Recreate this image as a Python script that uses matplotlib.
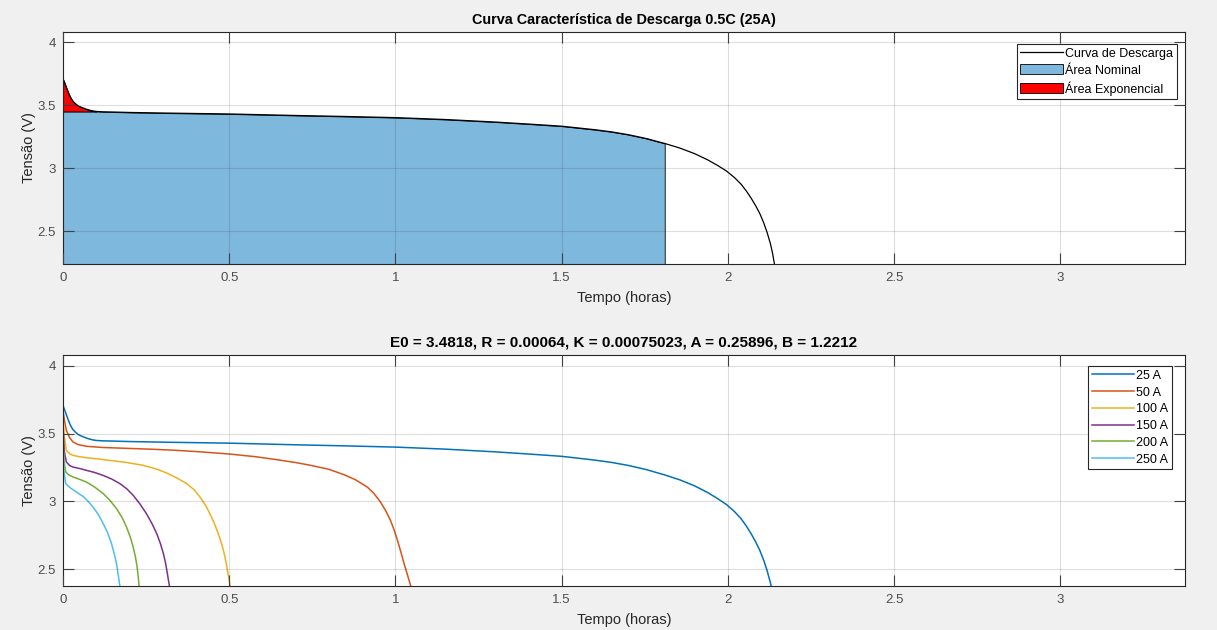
import numpy as np
import matplotlib
matplotlib.use("Agg")
import matplotlib.pyplot as plt
from matplotlib.patches import Patch
from matplotlib.lines import Line2D

plt.rcParams['font.family'] = ['Liberation Sans', 'DejaVu Sans']

# ---------------- data ----------------
t_25 = [0.000, 0.005, 0.010, 0.015, 0.020, 0.025, 0.030, 0.038, 0.045, 0.052,
        0.060, 0.070, 0.080, 0.090, 0.100, 0.120, 0.140, 0.200, 0.310, 0.500,
        0.700, 0.850, 1.000, 1.150, 1.300, 1.400, 1.500, 1.600, 1.650, 1.700,
        1.755, 1.780, 1.810, 1.855, 1.900, 1.940, 1.970, 1.996, 2.020, 2.040,
        2.056, 2.070, 2.084, 2.096, 2.108, 2.118, 2.128, 2.134, 2.140]
v_25 = [3.708, 3.675, 3.640, 3.607, 3.575, 3.550, 3.530, 3.510, 3.495, 3.486,
        3.478, 3.468, 3.460, 3.454, 3.450, 3.447, 3.446, 3.442, 3.437, 3.430,
        3.418, 3.410, 3.401, 3.386, 3.366, 3.350, 3.333, 3.305, 3.288, 3.266,
        3.235, 3.217, 3.196, 3.160, 3.115, 3.065, 3.020, 2.977, 2.925, 2.872,
        2.817, 2.762, 2.700, 2.640, 2.565, 2.490, 2.400, 2.330, 2.240]

t_50 = [0.000, 0.005, 0.010, 0.020, 0.030, 0.045, 0.070, 0.120, 0.191, 0.270,
        0.342, 0.420, 0.500, 0.580, 0.644, 0.700, 0.744, 0.800, 0.845, 0.880,
        0.915, 0.935, 0.955, 0.970, 0.985, 0.996, 1.006, 1.016, 1.026, 1.036,
        1.046]
v_50 = [3.670, 3.590, 3.525, 3.470, 3.439, 3.420, 3.407, 3.398, 3.392, 3.385,
        3.377, 3.365, 3.350, 3.330, 3.308, 3.287, 3.267, 3.237, 3.198, 3.160,
        3.107, 3.060, 2.996, 2.935, 2.861, 2.790, 2.714, 2.630, 2.542, 2.460,
        2.377]

t_100 = [0.000, 0.004, 0.010, 0.020, 0.030, 0.050, 0.070, 0.100, 0.141, 0.190,
         0.241, 0.280, 0.312, 0.345, 0.372, 0.395, 0.412, 0.428, 0.442, 0.455,
         0.467, 0.477, 0.485, 0.492, 0.498, 0.503]
v_100 = [3.620, 3.480, 3.377, 3.352, 3.340, 3.330, 3.323, 3.315, 3.303, 3.288,
         3.267, 3.240, 3.210, 3.170, 3.132, 3.085, 3.033, 2.975, 2.910, 2.840,
         2.763, 2.690, 2.616, 2.530, 2.444, 2.377]

t_150 = [0.000, 0.004, 0.010, 0.020, 0.030, 0.050, 0.070, 0.095, 0.120, 0.147,
         0.171, 0.192, 0.211, 0.232, 0.251, 0.267, 0.282, 0.293, 0.302, 0.309,
         0.314, 0.320]
v_150 = [3.540, 3.370, 3.291, 3.265, 3.254, 3.243, 3.230, 3.214, 3.193, 3.165,
         3.132, 3.093, 3.046, 2.980, 2.910, 2.840, 2.763, 2.690, 2.616, 2.540,
         2.468, 2.377]

t_200 = [0.000, 0.003, 0.008, 0.018, 0.030, 0.050, 0.070, 0.095, 0.121, 0.142,
         0.161, 0.177, 0.191, 0.202, 0.211, 0.218, 0.223, 0.226, 0.229]
v_200 = [3.470, 3.300, 3.218, 3.195, 3.181, 3.163, 3.144, 3.107, 3.058, 3.006,
         2.947, 2.885, 2.812, 2.740, 2.665, 2.590, 2.517, 2.450, 2.377]

t_250 = [0.000, 0.003, 0.008, 0.015, 0.025, 0.040, 0.060, 0.075, 0.090, 0.106,
         0.121, 0.134, 0.146, 0.154, 0.161, 0.166, 0.171]
v_250 = [3.420, 3.220, 3.132, 3.115, 3.095, 3.070, 3.038, 3.003, 2.960, 2.905,
         2.837, 2.770, 2.689, 2.615, 2.542, 2.460, 2.377]

labels = ['25 A', '50 A', '100 A', '150 A', '200 A', '250 A']
colors = ['#0072BD', '#D95319', '#EDB120', '#7E2F8E', '#77AC30', '#4DBEEE']

V_NOM = 3.45      # nominal voltage level (exponential zone boundary)
T_NOM = 1.81      # end of nominal zone (hours)

xticks = [0, 0.5, 1, 1.5, 2, 2.5, 3]
xticklabels = ['0', '0.5', '1', '1.5', '2', '2.5', '3']
yticks = [2.5, 3, 3.5, 4]
yticklabels = ['2.5', '3', '3.5', '4']

title1 = 'Curva Característica de Descarga 0.5C (25A)'
title2 = 'E0 = 3.4818, R = 0.00064, K = 0.00075023, A = 0.25896, B = 1.2212'

# ---------------- figure ----------------
W, H = 1217, 630
fig = plt.figure(figsize=(W / 100, H / 100), dpi=100, facecolor='#f0f0f0')

def px_ax(l, t, r, b):
    return [l / W, 1 - b / H, (r - l) / W, (b - t) / H]

ax1 = fig.add_axes(px_ax(63, 32, 1185, 264))
ax2 = fig.add_axes(px_ax(63, 355, 1185, 586))

AX_COL = '#262626'
TXT_COL = '#262626'

def style(ax, ylim):
    ax.set_facecolor('white')
    ax.set_xlim(0, 3.375)
    ax.set_ylim(*ylim)
    ax.set_xticks(xticks)
    ax.set_xticklabels(xticklabels)
    ax.set_yticks(yticks)
    ax.set_yticklabels(yticklabels)
    ax.tick_params(direction='in', length=8, width=0.8, colors='#404040',
                   labelcolor='#4d4d4d', labelsize=9.5, top=True, right=True, pad=6)
    ax.tick_params(axis='y', pad=5)
    for s in ax.spines.values():
        s.set_color(AX_COL)
        s.set_linewidth(0.8)
    ax.grid(True, color=(0.15, 0.15, 0.15), alpha=0.15, linewidth=0.8)
    ax.set_axisbelow(False)
    ax.set_xlabel('Tempo (horas)', fontsize=10.5, color=TXT_COL, labelpad=5)
    ax.set_ylabel('Tensão (V)', fontsize=10.5, color=TXT_COL, labelpad=1)

# ---- top subplot ----
t25 = np.array(t_25)
v25 = np.array(v_25)
mask = t25 <= T_NOM + 1e-9
nom_top = np.minimum(v25[mask], V_NOM)
ax1.fill_between(t25[mask], nom_top, 0.0, facecolor=(0, 0.447, 0.741, 0.5),
                 edgecolor='k', linewidth=0.6, zorder=1)
ax1.fill_between(t25, v25, V_NOM, where=v25 >= V_NOM, interpolate=True,
                 facecolor='red', edgecolor='k', linewidth=0.6, zorder=1)
ax1.plot(t25, v25, color='k', linewidth=0.9, zorder=2)
style(ax1, (2.24, 4.08))
ax1.set_title(title1, fontsize=10.4, fontweight='bold', color='k', pad=6)

handles1 = [Line2D([0], [0], color='k', linewidth=0.9),
            Patch(facecolor=(0, 0.447, 0.741, 0.5), edgecolor='k', linewidth=0.6),
            Patch(facecolor='red', edgecolor='k', linewidth=0.6)]
leg1 = ax1.legend(handles1, ['Curva de Descarga', 'Área Nominal', 'Área Exponencial'],
                  loc='upper right', bbox_to_anchor=(1177 / W, 1 - 44 / H),
                  bbox_transform=fig.transFigure, borderaxespad=0,
                  fontsize=9, fancybox=False, framealpha=1, edgecolor=AX_COL,
                  handlelength=3.4, handleheight=0.85, handletextpad=0.2,
                  labelspacing=0.35, borderpad=0.3)
leg1.get_frame().set_linewidth(0.8)

# ---- bottom subplot ----
series_t = [t_25, t_50, t_100, t_150, t_200, t_250]
series_v = [v_25, v_50, v_100, v_150, v_200, v_250]
for tt, vv, lab, c in zip(series_t, series_v, labels, colors):
    ax2.plot(tt, vv, color=c, linewidth=1.1, label=lab)
style(ax2, (2.377, 4.08))
ax2.set_title(title2, fontsize=11, fontweight='bold', color='k', pad=6)
leg2 = ax2.legend(loc='upper right', bbox_to_anchor=(1172 / W, 1 - 366 / H),
                  bbox_transform=fig.transFigure, borderaxespad=0,
                  fontsize=9, fancybox=False, framealpha=1, edgecolor=AX_COL,
                  handlelength=3.4, handletextpad=0.15,
                  labelspacing=0.38, borderpad=0.3)
leg2.get_frame().set_linewidth(0.8)

fig.savefig('out.png', dpi=100, facecolor=fig.get_facecolor())
